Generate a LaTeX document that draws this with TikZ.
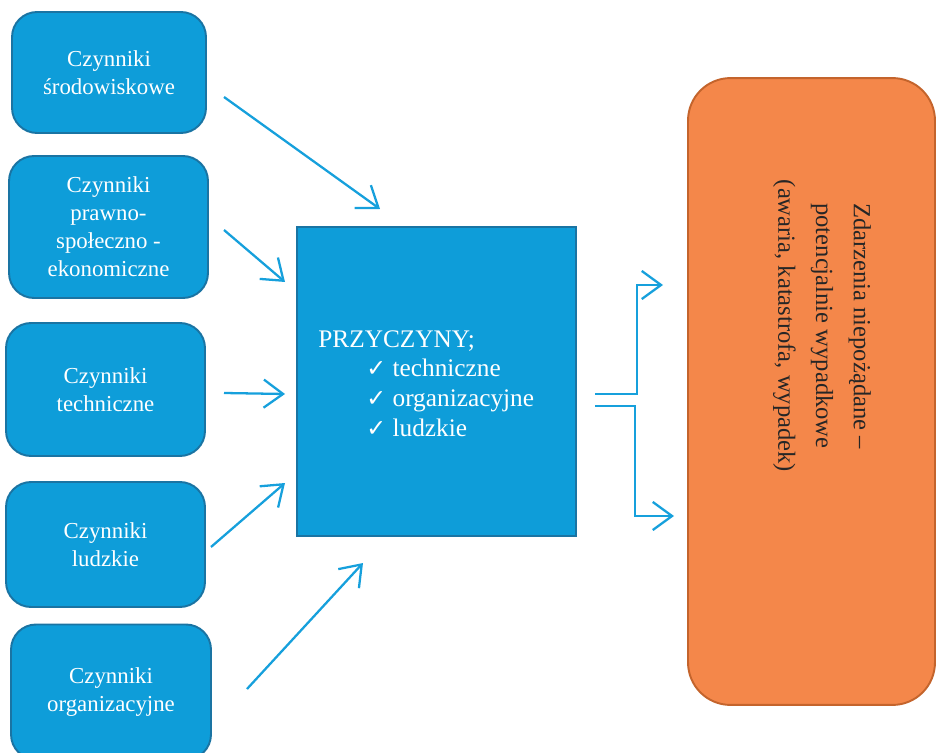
\documentclass[tikz,border=0pt]{standalone}
\usepackage{fontspec}
\setmainfont{Liberation Serif}
\newfontfamily\checkfont{DejaVu Sans}
\usetikzlibrary{arrows.meta}

\definecolor{boxblue}{HTML}{0E9DD9}
\definecolor{boxline}{HTML}{1A74A3}
\definecolor{eventorange}{HTML}{F4874A}
\definecolor{eventline}{HTML}{C4642C}
\definecolor{arrowblue}{HTML}{16A0DC}

\newcommand{\chk}{{\checkfont\fontsize{13.5}{13.5}\selectfont ✓}\ }

\tikzset{
  causebox/.style={draw=boxline, fill=boxblue, line width=1.1pt, rounded corners=0.5cm,
    text=white, align=center, inner sep=0pt, font=\fontsize{13}{16}\selectfont},
  mainbox/.style={draw=boxline, fill=boxblue, line width=1.1pt, inner sep=0pt},
  eventbox/.style={draw=eventline, fill=eventorange, line width=1.1pt, rounded corners=0.85cm, inner sep=0pt},
  flow/.style={arrowblue, line width=1.3pt, -{Straight Barb[length=11pt,width=16pt,line width=1.3pt]}},
}

\begin{document}
\begin{tikzpicture}[x=0.02cm, y=-0.02cm]
    \useasboundingbox (0,0) rectangle (937,753);
    \clip (0,0) rectangle (937,753);

    % czynniki
    \node[causebox, minimum width=3.88cm, minimum height=2.42cm] (env) at (109,72.5) {Czynniki\\środowiskowe};
    \node[causebox, minimum width=3.98cm, minimum height=2.84cm] (law) at (108.5,227) {Czynniki\\prawno-\\społeczno -\\ekonomiczne};
    \node[causebox, minimum width=3.98cm, minimum height=2.66cm] (tech) at (105.5,389.5) {Czynniki\\techniczne};
    \node[causebox, minimum width=3.98cm, minimum height=2.50cm] (human) at (105.5,544.5) {Czynniki\\ludzkie};
    \node[causebox, minimum width=4.00cm, minimum height=2.70cm] (org) at (111,692) {Czynniki\\organizacyjne};

    % przyczyny
    \node[mainbox, minimum width=5.58cm, minimum height=6.18cm] (causes) at (436.5,381.5) {};
    \node[anchor=north west, inner sep=0pt, align=left, text=white, font=\fontsize{14.4}{17}\selectfont] (causelist) at (318,330)
        {PRZYCZYNY;\\
         \hspace*{1.9em}\chk techniczne\\
         \hspace*{1.9em}\chk organizacyjne\\
         \hspace*{1.9em}\chk ludzkie};

    % zdarzenia
    \node[eventbox, minimum width=4.94cm, minimum height=12.54cm] (event) at (811.5,391.5) {};
    \node[rotate=-90, align=center, text=black!85, font=\fontsize{14}{21.5}\selectfont] (eventtext) at (822,326)
        {Zdarzenia niepożądane –\\potencjalnie wypadkowe\\(awaria, katastrofa, wypadek)};

    % strzalki
    \coordinate (env-out) at (224,97);     \coordinate (env-in) at (380,209);
    \coordinate (law-out) at (224,230);    \coordinate (law-in) at (285,282);
    \coordinate (tech-out) at (224,393);   \coordinate (tech-in) at (285,394);
    \coordinate (human-out) at (211,547);  \coordinate (human-in) at (285,483);
    \coordinate (org-out) at (247,689);    \coordinate (org-in) at (363,563);
    \draw[flow] (env-out) -- (env-in);
    \draw[flow] (law-out) -- (law-in);
    \draw[flow] (tech-out) -- (tech-in);
    \draw[flow] (human-out) -- (human-in);
    \draw[flow] (org-out) -- (org-in);

    \coordinate (up-out) at (595,394);     \coordinate (up-in) at (663,285);
    \coordinate (down-out) at (595,406);   \coordinate (down-in) at (674,516);
    \draw[flow] (up-out) -- (637,394) -- (637,285) -- (up-in);
    \draw[flow] (down-out) -- (635,406) -- (635,516) -- (down-in);
\end{tikzpicture}
\end{document}
